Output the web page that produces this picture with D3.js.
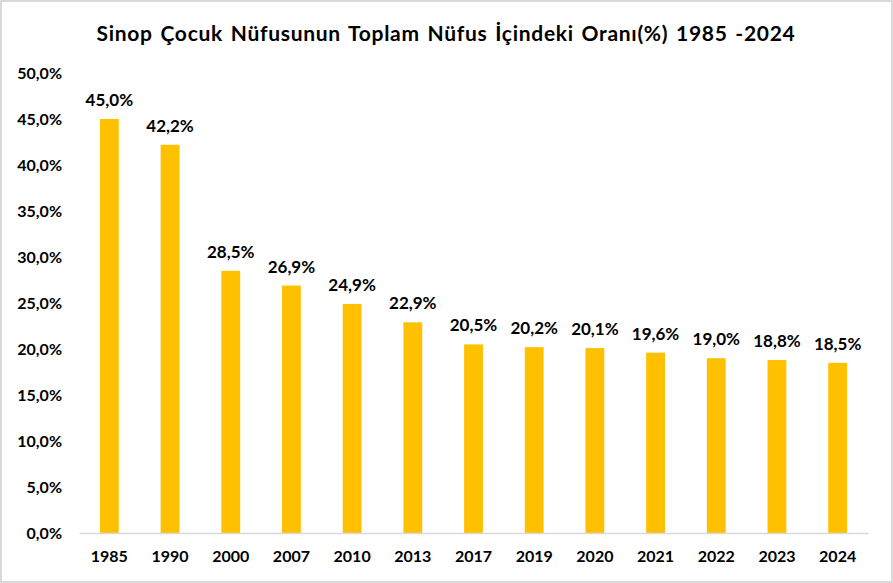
<!DOCTYPE html>
<html>
<head>
<meta charset="utf-8">
<script src="https://cdn.jsdelivr.net/npm/d3@7"></script>
<style>
  body { margin: 0; background: #fff; }
  svg text { font-family: Lato, "Open Sans", sans-serif; font-weight: bold; fill: #000; }
</style>
</head>
<body>
<div id="chart-area"></div>
<script>
var years = ["1985","1990","2000","2007","2010","2013","2017","2019","2020","2021","2022","2023","2024"];
var ratios = [45.0, 42.2, 28.5, 26.9, 24.9, 22.9, 20.5, 20.2, 20.1, 19.6, 19.0, 18.8, 18.5];
var yTicks = [0, 5, 10, 15, 20, 25, 30, 35, 40, 45, 50];

var W = 893, H = 583;
var margin = {top: 73, right: 25, bottom: 50, left: 79};
var width = 868 - margin.left,
    height = 533 - margin.top;

var fmt = function(v) { return v.toFixed(1).replace(".", ",") + "%"; };

var svg = d3.select("#chart-area")
    .append("svg")
        .attr("width", W)
        .attr("height", H);

// outer border
svg.append("rect")
    .attr("x", 1).attr("y", 1)
    .attr("width", W - 2).attr("height", H - 2)
    .attr("fill", "#fff")
    .attr("stroke", "#d9d9d9")
    .attr("stroke-width", 2);

svg.append("text")
    .attr("x", 446)
    .attr("y", 41)
    .attr("text-anchor", "middle")
    .style("font-size", "21px")
    .style("letter-spacing", "0.7px")
    .style("word-spacing", "2px")
    .text("Sinop Çocuk Nüfusunun Toplam Nüfus İçindeki Oranı(%) 1985 -2024");

var g = svg.append("g")
    .attr("transform", "translate(" + margin.left + "," + margin.top + ")");

var xScale = d3.scaleBand().domain(years).range([0, width]).paddingInner(0.69).paddingOuter(0.345);
var yScale = d3.scaleLinear().domain([0, 50]).range([height, 0]);

var yAxis = d3.axisLeft(yScale).tickValues(yTicks).tickFormat(fmt).tickSize(0).tickPadding(17);
var yAxisEl = g.append("g").call(yAxis);
yAxisEl.select(".domain").remove();
yAxisEl.selectAll("text").style("font-size", "16px");

g.selectAll("rect.bar")
    .data(ratios)
    .enter()
    .append("rect")
    .attr("class", "bar")
    .attr("x", function(d, i) { return xScale(years[i]); })
    .attr("width", xScale.bandwidth())
    .attr("y", function(d) { return yScale(d); })
    .attr("height", function(d) { return height - yScale(d); })
    .attr("fill", "#ffc000");

g.selectAll("text.lbl")
    .data(ratios)
    .enter()
    .append("text")
    .attr("class", "lbl")
    .attr("x", function(d, i) { return xScale(years[i]) + xScale.bandwidth() / 2; })
    .attr("y", function(d) { return yScale(d) - 13; })
    .attr("text-anchor", "middle")
    .style("font-size", "17px")
    .text(fmt);

var xAxis = d3.axisBottom(xScale).tickSize(0).tickPadding(18);
var xAxisEl = g.append("g")
    .attr("transform", "translate(0," + height + ")")
    .call(xAxis);
xAxisEl.select(".domain").attr("stroke", "#d9d9d9").attr("stroke-width", 1.5);
xAxisEl.selectAll("text").style("font-size", "16px");
</script>
</body>
</html>
